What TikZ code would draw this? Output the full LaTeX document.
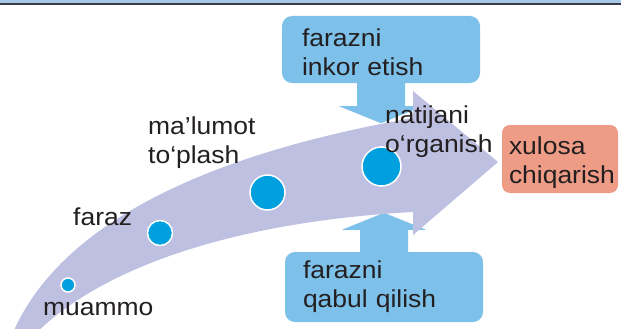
\documentclass[tikz,border=0pt]{standalone}
\usepackage{fontspec}
\setmainfont{Liberation Sans}[FakeStretch=1.08]
\usetikzlibrary{calc}
\definecolor{chiziq}{HTML}{A7C8E6}
\definecolor{qora}{HTML}{3B3E48}
\definecolor{kok}{HTML}{7DC1EA}
\definecolor{qizil}{HTML}{EE9C86}
\definecolor{binafsha}{HTML}{BDC0E1}
\definecolor{nuqtarang}{HTML}{00A0DE}
\definecolor{matnrang}{HTML}{231F20}
\begin{document}
\begin{tikzpicture}[x=1pt, y=-1pt,
  font=\fontsize{24.5}{29}\selectfont, text=matnrang,
  matn/.style={anchor=base west, inner sep=0pt, align=left},
  quti/.style={rounded corners=10pt, inner ysep=0pt, align=left},
  nuqta/.style={circle, fill=nuqtarang, draw=white, line width=1.5pt, inner sep=0pt}]
  \useasboundingbox (0,0) rectangle (621,329);
  % top strip
  \fill[chiziq] (0,0) rectangle (621,3.4);
  \fill[qora] (0,3.4) rectangle (621,5);
  % the three boxes
  \node[quti, fill=kok, text width=158pt, inner xsep=20pt, minimum height=67pt] (inkor) at (381,49.5) {\rule{0pt}{24pt}farazni\\inkor etish};
  \node[quti, fill=kok, text width=162pt, inner xsep=18pt, minimum height=70pt] (qabul) at (384,287) {farazni\\qabul qilish};
  \node[quti, fill=qizil, rounded corners=8pt, text width=102pt, inner xsep=7pt, minimum height=68pt] (xulosa) at (560,159) {\rule{0pt}{26pt}xulosa\\chiqarish};
  % block arrows into the big arrow
  \fill[kok] ($(inkor.south)+(-24,-2)$) -- ++(0,25) -- ++(-18,0) -- ++(42,17) -- ++(42,-17) -- ++(-18,0) -- ++(0,-25) -- cycle;
  \fill[kok] ($(qabul.north)+(-24,2)$) -- ++(0,-24) -- ++(-18,0) -- ++(42,-17) -- ++(42,17) -- ++(-18,0) -- ++(0,24) -- cycle;
  % big curved arrow
  \fill[binafsha] (8,345) .. controls (55,215) and (230,150) .. (413,118) -- (413,91) -- (498,162) -- (413,235) -- (413,212) .. controls (230,222) and (90,270) .. (25,345) -- cycle;
  % steps
  \node[nuqta, minimum size=14pt] (d1) at (68,285) {};
  \node[nuqta, minimum size=25pt] (d2) at (160,233) {};
  \node[nuqta, minimum size=35pt] (d3) at (267.5,192.5) {};
  \node[nuqta, minimum size=39pt] (d4) at (381.5,166.5) {};
  \node[matn] (muammo) at (43,315) {muammo};
  \node[matn] (faraz) at (73,225) {faraz};
  \node[matn] (malumot) at (148,163) {ma’lumot\\to‘plash};
  \node[matn] (natija) at (385,152) {natijani\\o‘rganish};
\end{tikzpicture}
\end{document}
